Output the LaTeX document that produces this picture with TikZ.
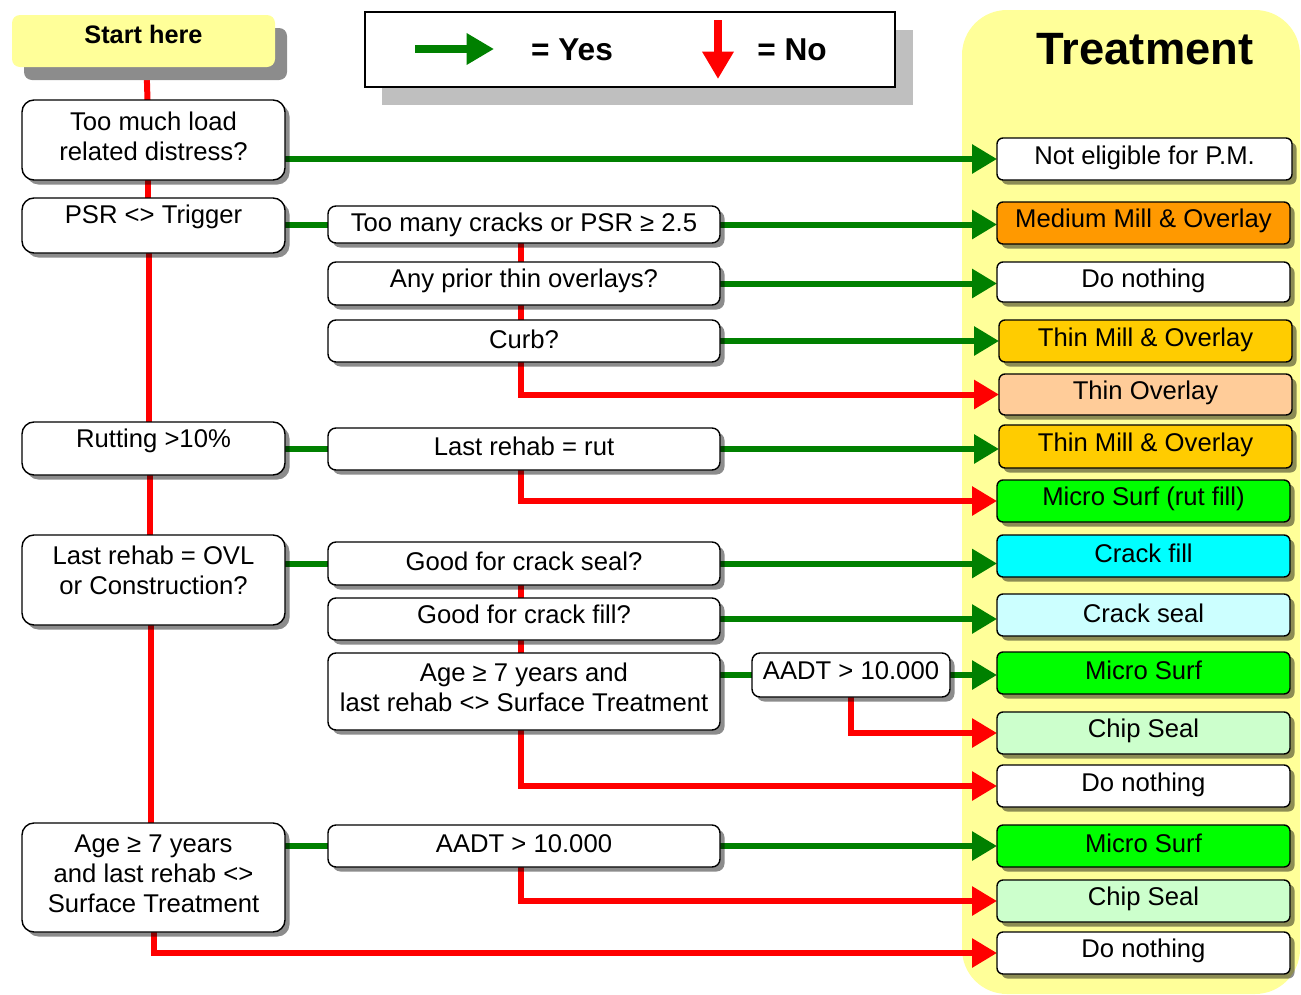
\documentclass[tikz,border=0pt]{standalone}
\usepackage{fontspec}
\setmainfont{Liberation Sans}
\usetikzlibrary{arrows.meta,shadows,calc}
\definecolor{panel}{RGB}{255,255,153}
\definecolor{orng}{RGB}{255,153,0}
\definecolor{gold}{RGB}{255,204,0}
\definecolor{peach}{RGB}{255,204,153}
\definecolor{lime}{RGB}{0,255,0}
\definecolor{cyn}{RGB}{0,255,255}
\definecolor{lcyn}{RGB}{204,255,255}
\definecolor{lgrn}{RGB}{204,255,204}
\definecolor{ygreen}{RGB}{0,128,0}
\definecolor{nred}{RGB}{255,0,0}
\pgfdeclarelayer{back}
\pgfdeclarelayer{mid}
\pgfsetlayers{back,mid,main}
\newcommand\bx[8]{%
  \node[#6, minimum width={(#4-#2)*0.02cm}, minimum height={(#5-#3)*0.02cm}] (#1) at ({(#2+#4)/2},{(#3+#5)/2}) {};
  \node[txt] (#1t) at ({(#2+#4)/2},{#8-1.5}) {#7};
}
\tikzset{
  shbox/.style={draw=black, line width=0.8pt, inner sep=0pt, outer sep=0pt,
    drop shadow={shadow xshift=0.09cm, shadow yshift=-0.09cm, fill=black, opacity=0.45}},
  lbox/.style={shbox, rounded corners=0.24cm, fill=white},
  mbox/.style={shbox, rounded corners=0.16cm, fill=white},
  rbox/.style={shbox, rounded corners=0.12cm},
  txt/.style={inner sep=0pt, align=center, font=\fontsize{14.6pt}{17pt}\selectfont},
  yes/.style={draw=ygreen, line width=0.12cm, -{Triangle[length=0.5cm,width=0.56cm]}},
  yesl/.style={draw=ygreen, line width=0.12cm},
  no/.style={draw=nred, line width=0.12cm, -{Triangle[length=0.5cm,width=0.56cm]}},
  nol/.style={draw=nred, line width=0.12cm},
}
\begin{document}
\begin{tikzpicture}[x=0.02cm,y=-0.02cm]
\useasboundingbox (0,0) rectangle (1301,994);
\begin{pgfonlayer}{back}
\fill[panel, rounded corners=0.9cm] (962,10) rectangle (1300,994);
\end{pgfonlayer}
% Title
\node[font=\bfseries\fontsize{25.8pt}{30pt}\selectfont, inner sep=0pt] (title) at (1145,49) {Treatment};
% Legend
\fill[black!25] (382,30) rectangle (913,105);
\node[draw=black, line width=0.9pt, fill=white, minimum width={530*0.02cm}, minimum height={75*0.02cm}, inner sep=0pt] (legend) at (630,49.5) {};
\coordinate (ly1) at (415,49); \coordinate (ly2) at (494,49);
\coordinate (ln1) at (718,20); \coordinate (ln2) at (718,79);
\draw[draw=ygreen, line width=0.16cm, -{Triangle[length=0.55cm,width=0.6cm]}] (ly1) -- (ly2);
\draw[draw=nred, line width=0.16cm, -{Triangle[length=0.55cm,width=0.6cm]}] (ln1) -- (ln2);
\node[font=\bfseries\fontsize{18pt}{20pt}\selectfont, inner sep=0pt] (lyes) at (572,50) {= Yes};
\node[font=\bfseries\fontsize{18pt}{20pt}\selectfont, inner sep=0pt] (lno) at (792,50) {= No};
% Start
\fill[black!45, rounded corners=0.16cm] (24,28) rectangle (287,80);
\node[fill=panel, rounded corners=0.16cm, minimum width={263*0.02cm}, minimum height={52*0.02cm}, inner sep=0pt, outer sep=0pt] (start) at (143.5,41) {};
\node[font=\bfseries\fontsize{14.4pt}{17pt}\selectfont, inner sep=0pt] (startt) at (143.5,34) {Start here};
% Left column
\bx{b1}{22}{100}{285}{180}{lbox}{Too much load\\related distress?}{138}
\bx{b2}{22}{198}{285}{253}{lbox}{PSR <> Trigger}{218}
\bx{b3}{22}{422}{285}{475}{lbox}{Rutting >10\%}{442}
\bx{b4}{22}{535}{285}{625}{lbox}{Last rehab = OVL\\or Construction?}{572}
\bx{b5}{22}{823}{285}{932}{lbox}{Age ≥ 7 years\\and last rehab <>\\Surface Treatment}{875}
% Middle column
\bx{m1}{328}{206}{720}{243}{mbox}{Too many cracks or PSR ≥ 2.5}{226}
\bx{m2}{328}{262}{720}{305}{mbox}{Any prior thin overlays?}{282}
\bx{m3}{328}{320}{720}{362}{mbox}{Curb?}{341}
\bx{m4}{328}{428}{720}{470}{mbox}{Last rehab = rut}{448}
\bx{m5}{328}{542}{720}{585}{mbox}{Good for crack seal?}{563}
\bx{m6}{328}{598}{720}{640}{mbox}{Good for crack fill?}{616}
\bx{m7}{328}{653}{720}{730}{mbox}{Age ≥ 7 years and\\last rehab <> Surface Treatment}{689}
\bx{aa}{752}{653}{950}{697}{mbox}{AADT > 10.000}{672}
\bx{m8}{328}{825}{720}{867}{mbox}{AADT > 10.000}{845}
% Right column
\bx{r1}{997}{138}{1292}{180}{rbox, fill=white}{Not eligible for P.M.}{159}
\bx{r2}{997}{202}{1290}{244}{rbox, fill=orng}{Medium Mill \& Overlay}{222}
\bx{r3}{997}{262}{1290}{302}{rbox, fill=white}{Do nothing}{282}
\bx{r4}{999}{320}{1292}{362}{rbox, fill=gold}{Thin Mill \& Overlay}{341}
\bx{r5}{999}{374}{1292}{415}{rbox, fill=peach}{Thin Overlay}{394}
\bx{r6}{999}{425}{1292}{468}{rbox, fill=gold}{Thin Mill \& Overlay}{446}
\bx{r7}{997}{480}{1290}{522}{rbox, fill=lime}{Micro Surf (rut fill)}{500}
\bx{r8}{997}{535}{1290}{577}{rbox, fill=cyn}{Crack fill}{555}
\bx{r9}{997}{594}{1290}{636}{rbox, fill=lcyn}{Crack seal}{615}
\bx{r10}{997}{652}{1290}{694}{rbox, fill=lime}{Micro Surf}{672}
\bx{r11}{997}{712}{1290}{754}{rbox, fill=lgrn}{Chip Seal}{732}
\bx{r12}{997}{765}{1290}{807}{rbox, fill=white}{Do nothing}{786}
\bx{r13}{997}{825}{1290}{867}{rbox, fill=lime}{Micro Surf}{845}
\bx{r14}{997}{880}{1290}{922}{rbox, fill=lgrn}{Chip Seal}{900}
\bx{r15}{997}{932}{1290}{974}{rbox, fill=white}{Do nothing}{952}
% Connectors
\begin{pgfonlayer}{mid}
% red trunk
\draw[nol] ([xshift=0.06cm]start.south) -- ([xshift=-0.12cm]b1.north);
\draw[nol] ([xshift=-0.12cm]b1.south) -- ([xshift=-0.12cm]b2.north);
\draw[nol] ([xshift=-0.1cm]b2.south) -- ([xshift=-0.1cm]b3.north);
\draw[nol] ([xshift=-0.08cm]b3.south) -- ([xshift=-0.08cm]b4.north);
\draw[nol] ([xshift=-0.05cm]b4.south) -- ([xshift=-0.05cm]b5.north);
\draw[no] (b5.south) |- (r15.west);
% yes from left column
\draw[yes] (r1.west -| b1.east) -- (r1.west);
\draw[yesl] (m1.west -| b2.east) -- (m1.west);
\draw[yesl] (m4.west -| b3.east) -- (m4.west);
\draw[yesl] (m5.west -| b4.east) -- (m5.west);
\draw[yesl] (m8.west -| b5.east) -- (m8.west);
% middle column
\draw[yes] (m1.east) -- (m1.east -| r2.west);
\draw[nol] ([xshift=-0.06cm]m1.south) -- ([xshift=-0.06cm]m2.north);
\draw[yes] (m2.east) -- (m2.east -| r3.west);
\draw[nol] ([xshift=-0.06cm]m2.south) -- ([xshift=-0.06cm]m3.north);
\draw[yes] (m3.east) -- (m3.east -| r4.west);
\draw[no] ([xshift=-0.06cm]m3.south) |- (r5.west);
\draw[yes] (m4.east) -- (m4.east -| r6.west);
\draw[no] ([xshift=-0.06cm]m4.south) |- (r7.west);
\draw[yes] (m5.east) -- (m5.east -| r8.west);
\draw[nol] ([xshift=-0.06cm]m5.south) -- ([xshift=-0.06cm]m6.north);
\draw[yes] (m6.east) -- (m6.east -| r9.west);
\draw[nol] ([xshift=-0.06cm]m6.south) -- ([xshift=-0.06cm]m7.north);
\draw[yesl] (aa.west -| m7.east) -- (aa.west);
\draw[yes] (aa.east) -- (aa.east -| r10.west);
\draw[no] (aa.south) |- (r11.west);
\draw[no] ([xshift=-0.06cm]m7.south) |- (r12.west);
\draw[yes] (m8.east) -- (m8.east -| r13.west);
\draw[no] ([xshift=-0.06cm]m8.south) |- (r14.west);
\end{pgfonlayer}
\end{tikzpicture}
\end{document}
